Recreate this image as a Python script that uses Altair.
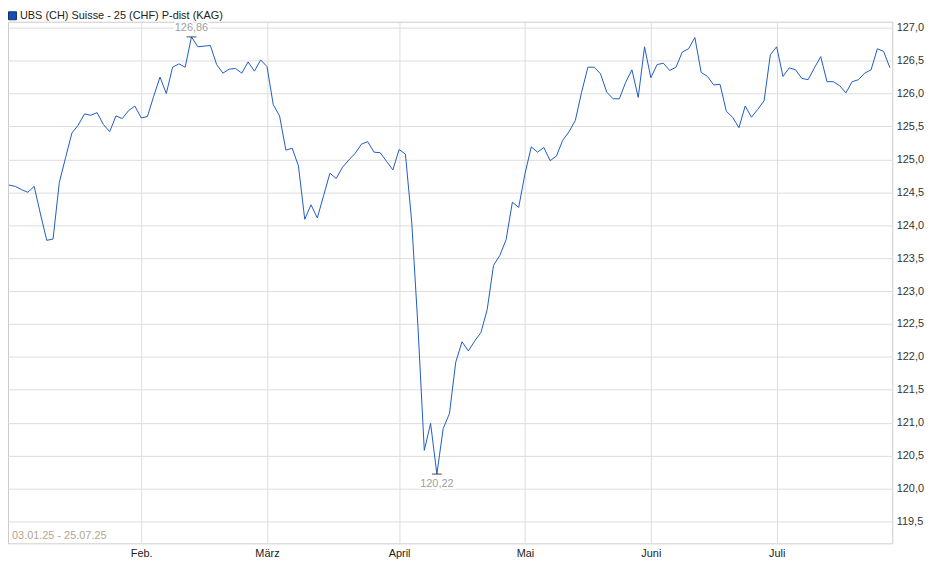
import altair as alt
import pandas as pd

# trading-day closing values, one list per month
jan = [124.61, 124.59, 124.54, 124.50, 124.59, 124.17, 123.77, 123.79, 124.65, 125.03,
       125.40, 125.52, 125.69, 125.67, 125.71, 125.53, 125.42, 125.66, 125.62, 125.74, 125.81]
feb = [125.63, 125.65, 125.96, 126.25, 126.00, 126.40, 126.45, 126.40, 126.86, 126.71,
       126.72, 126.73, 126.44, 126.31, 126.37, 126.38, 126.31, 126.48, 126.34, 126.51]
mar = [126.41, 125.83, 125.66, 125.14, 125.17, 124.90, 124.09, 124.31, 124.11, 124.45,
       124.79, 124.71, 124.88, 124.99, 125.09, 125.23, 125.27, 125.11, 125.10, 124.97, 124.84]
apr = [125.15, 125.08, 124.05, 122.45, 120.58, 120.99, 120.22, 120.91, 121.14, 121.92,
       122.23, 122.09, 122.24, 122.37, 122.72, 123.39, 123.54, 123.78, 124.35, 124.27]
mai = [124.78, 125.19, 125.11, 125.18, 124.98, 125.05, 125.29, 125.42, 125.59, 126.02,
       126.40, 126.40, 126.30, 126.02, 125.92, 125.92, 126.17, 126.36, 125.94, 126.71]
jun = [126.24, 126.44, 126.46, 126.35, 126.40, 126.63, 126.68, 126.85, 126.32, 126.26,
       126.13, 126.14, 125.73, 125.64, 125.48, 125.81, 125.64, 125.76, 125.89, 126.59]
jul = [126.71, 126.26, 126.39, 126.36, 126.23, 126.21, 126.39, 126.56, 126.18, 126.18,
       126.12, 126.01, 126.18, 126.21, 126.31, 126.36, 126.68, 126.64, 126.39]

month_labels = ["Feb.", "März", "April", "Mai", "Juni", "Juli"]
y_ticks = [119.5, 120.0, 120.5, 121.0, 121.5, 122.0, 122.5, 123.0, 123.5,
           124.0, 124.5, 125.0, 125.5, 126.0, 126.5, 127.0]
series_name = "UBS (CH) Suisse - 25 (CHF) P-dist (KAG)"
range_text = "03.01.25 - 25.07.25"

values, starts = [], []
for m in [jan, feb, mar, apr, mai, jun, jul]:
    starts.append(len(values))
    values.extend(m)
tick_idx = starts[1:]

df = pd.DataFrame({"i": list(range(len(values))), "v": values})
imax = int(df["v"].idxmax())
imin = int(df["v"].idxmin())


def de(v):
    return f"{v:.2f}".replace(".", ",")


df_max = pd.DataFrame({"i": [imax], "v": [values[imax]], "lbl": [de(values[imax])]})
df_min = pd.DataFrame({"i": [imin], "v": [values[imin]], "lbl": [de(values[imin])]})

FONT = "Liberation Sans"
BLUE = "#1f5cc6"

label_expr = "[" + ",".join(f"'{m}'" for m in month_labels) + "][indexof([" + \
    ",".join(str(t) for t in tick_idx) + "], datum.value)]"

xs = alt.Scale(domain=[-0.158, 140.37], nice=False, zero=False)
ys = alt.Scale(domain=[119.168, 127.0905], nice=False, zero=False)

X = alt.X("i:Q", scale=xs, axis=alt.Axis(values=tick_idx, labelExpr=label_expr, grid=True,
                                         tickCount=20, labelOverlap=False,
                                         ticks=False, domain=False, labelPadding=4,
                                         gridColor="#dddddd", labelColor="#222222",
                                         labelFont=FONT, labelFontSize=11, title=None))
Y = alt.Y("v:Q", scale=ys, axis=alt.Axis(orient="right", values=y_ticks, tickCount=40,
                                         labelOverlap=False,
                                         labelExpr="replace(format(datum.value, '.1f'), '.', ',')",
                                         ticks=False, domain=False, labelPadding=4,
                                         gridColor="#dddddd", labelColor="#333333",
                                         labelFont=FONT, labelFontSize=11, title=None))

line = alt.Chart(df).mark_line(color=BLUE, strokeWidth=1).encode(x=X, y=Y)

tick_max = alt.Chart(df_max).mark_tick(orient="horizontal", color="black", size=10,
                                       thickness=1).encode(x="i:Q", y="v:Q")
tick_min = alt.Chart(df_min).mark_tick(orient="horizontal", color="black", size=10,
                                       thickness=1).encode(x="i:Q", y="v:Q")


def ext_label(d, dy):
    halo = alt.Chart(d).mark_text(font=FONT, fontSize=11, dy=dy, baseline="middle",
                                  stroke="white", strokeWidth=4, color="white").encode(
        x="i:Q", y="v:Q", text="lbl:N")
    txt = alt.Chart(d).mark_text(font=FONT, fontSize=11, dy=dy, baseline="middle",
                                 color="#a0a0a0").encode(x="i:Q", y="v:Q", text="lbl:N")
    return halo + txt


rng = alt.Chart(df_max).mark_text(font=FONT, fontSize=11, align="left", baseline="middle",
                                  color="#b3a68f").encode(
    x=alt.value(4), y=alt.value(518), text=alt.value(range_text))

sq = alt.Chart(df_max).mark_square(size=64, filled=True, color="#1a4fb0", stroke="#0d2e6e",
                                   strokeWidth=1, opacity=1).encode(x=alt.value(4.5), y=alt.value(-6))
ttl = alt.Chart(df_max).mark_text(font=FONT, fontSize=11, align="left", baseline="middle",
                                  color="#222222").encode(
    x=alt.value(12), y=alt.value(-6), text=alt.value(series_name))

chart = alt.layer(line, tick_max, tick_min, ext_label(df_max, -9), ext_label(df_min, 10.5),
                  rng, sq, ttl).properties(
    width=890, height=525,
    autosize=alt.AutoSizeParams(type="none"),
    padding={"left": 0, "top": 12, "right": 40, "bottom": 22},
    background="white",
).configure_view(stroke="#cccccc", strokeWidth=1)

chart.save("out.html", embed_options={"renderer": "svg", "actions": False})
